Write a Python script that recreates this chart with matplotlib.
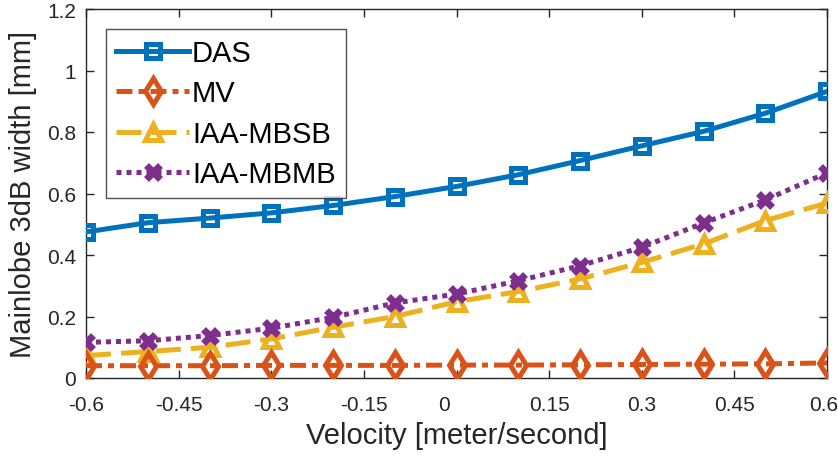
import matplotlib
matplotlib.use("Agg")
import matplotlib.pyplot as plt
import matplotlib.transforms as mtransforms
import numpy as np

velocity = [-0.6, -0.5, -0.4, -0.3, -0.2, -0.1, 0.0, 0.1, 0.2, 0.3, 0.4, 0.5, 0.6]
das = [0.475, 0.505, 0.520, 0.537, 0.561, 0.590, 0.623, 0.661, 0.707, 0.755, 0.802, 0.861, 0.932]
mv = [0.040, 0.040, 0.040, 0.041, 0.041, 0.041, 0.042, 0.042, 0.043, 0.044, 0.045, 0.046, 0.049]
iaa_mbsb = [0.073, 0.086, 0.100, 0.127, 0.165, 0.200, 0.248, 0.281, 0.322, 0.376, 0.436, 0.512, 0.569]
iaa_mbmb = [0.116, 0.121, 0.138, 0.162, 0.197, 0.244, 0.273, 0.316, 0.365, 0.425, 0.504, 0.579, 0.667]

xticks = [-0.6, -0.45, -0.3, -0.15, 0, 0.15, 0.3, 0.45, 0.6]
xticklabels = ["-0.6", "-0.45", "-0.3", "-0.15", "0", "0.15", "0.3", "0.45", "0.6"]
yticks = [0, 0.2, 0.4, 0.6, 0.8, 1.0, 1.2]
yticklabels = ["0", "0.2", "0.4", "0.6", "0.8", "1", "1.2"]

plt.rcParams['font.family'] = ['Liberation Sans', 'DejaVu Sans']

W, H = 838, 460
fig = plt.figure(figsize=(W / 100, H / 100), dpi=100)
ax = fig.add_axes([86 / W, 1 - 379 / H, (827 - 86) / W, (379 - 10) / H])

lw = 3.6
mew = 3.6
ax.plot(velocity, das, color='#0072BD', linestyle='-', linewidth=lw,
        marker='s', markersize=9.5, markerfacecolor='none', markeredgewidth=mew,
        label='DAS', zorder=5)
ax.plot(velocity, mv, color='#D95319', linestyle=(0, (3.2, 1.2, 1.2, 1.2)), linewidth=lw,
        marker='d', markersize=13, markerfacecolor='none', markeredgewidth=mew,
        label='MV', zorder=4)
ax.plot(velocity, iaa_mbsb, color='#EDB120', linestyle=(0, (5, 2)), linewidth=lw,
        marker='^', markersize=11.5, markerfacecolor='none', markeredgewidth=mew,
        label='IAA-MBSB', zorder=3)
ax.plot(velocity, iaa_mbmb, color='#7E2F8E', linestyle=(0, (1, 1)), linewidth=lw,
        marker='x', markersize=10.5, markeredgewidth=5.0,
        label='IAA-MBMB', zorder=6)

ax.set_xlim(-0.6, 0.6)
ax.set_ylim(0, 1.2)
ax.set_xticks(xticks)
ax.set_xticklabels(xticklabels)
ax.set_yticks(yticks)
ax.set_yticklabels(yticklabels)

axcol = '#262626'
for s in ax.spines.values():
    s.set_color(axcol)
    s.set_linewidth(1.0)
ax.tick_params(direction='in', length=6, width=1.0, colors=axcol, labelsize=15,
               top=True, right=True)
ax.tick_params(axis='x', pad=12)
ax.tick_params(axis='y', pad=7)
for lab in ax.get_xticklabels() + ax.get_yticklabels():
    lab.set_color(axcol)

# nudge a couple of x-labels as in reference
xl = ax.get_xticklabels()
for idx, dx in [(4, -13), (8, -3)]:
    xl[idx].set_transform(xl[idx].get_transform() +
                          mtransforms.ScaledTranslation(dx / 100, 0, fig.dpi_scale_trans))

ax.set_xlabel('Velocity [meter/second]', fontsize=21, color=axcol, labelpad=5)
ax.set_ylabel('Mainlobe 3dB width [mm]', fontsize=21, color=axcol, labelpad=7)

leg = ax.legend(loc='upper left', bbox_to_anchor=(20 / 741, 1 - 20 / 369), fontsize=21,
                frameon=True, fancybox=False, edgecolor=axcol, borderpad=0.35,
                handlelength=2.5, handletextpad=0.1, labelspacing=0.42, borderaxespad=0)
leg.get_frame().set_linewidth(1.0)

fig.savefig('out.png', dpi=100)
